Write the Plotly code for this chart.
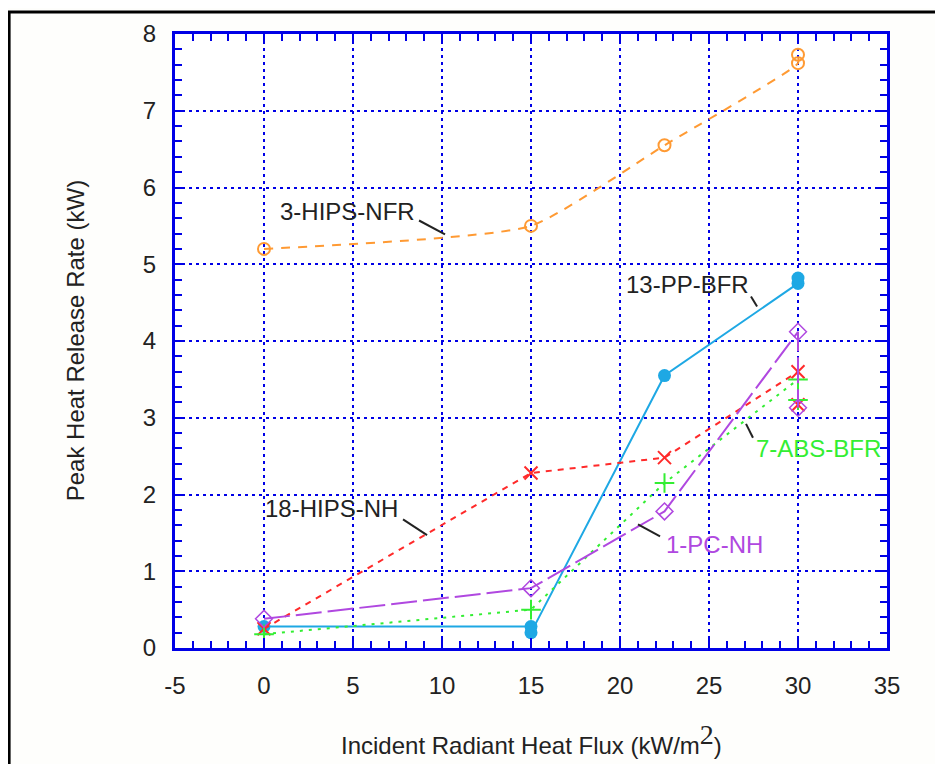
import plotly.graph_objects as go

# ---- data ----
hips_nfr_x = [0, 15, 22.5, 30, 30]
hips_nfr_y = [5.2, 5.5, 6.55, 7.62, 7.73]

pp_bfr_x = [0, 15, 15, 22.5, 30, 30]
pp_bfr_y = [0.28, 0.28, 0.2, 3.55, 4.75, 4.82]

hips_nh_x = [0, 15, 22.5, 30, 30]
hips_nh_y = [0.25, 2.28, 2.48, 3.6, 3.17]

abs_bfr_x = [0, 15, 22.5, 30, 30]
abs_bfr_y = [0.18, 0.5, 2.15, 3.5, 3.23]

pc_nh_x = [0, 15, 22.5, 30, 30]
pc_nh_y = [0.38, 0.78, 1.78, 4.12, 3.13]

x_ticks = [-5, 0, 5, 10, 15, 20, 25, 30, 35]
y_ticks = [0, 1, 2, 3, 4, 5, 6, 7, 8]

# label text, anchor (left, middle) and leader line endpoints (data coords)
labels = [
    ("3-HIPS-NFR", "#222222", 0.8, 5.69, (8.71, 5.57, 10.17, 5.39)),
    ("13-PP-BFR", "#222222", 20.25, 4.73, (27.36, 4.58, 27.70, 4.45)),
    ("18-HIPS-NH", "#222222", -0.05, 1.82, (7.81, 1.675, 9.16, 1.47)),
    ("1-PC-NH", "#b048e0", 22.45, 1.35, (21.01, 1.61, 22.25, 1.455)),
    ("7-ABS-BFR", "#33ee33", 27.5, 2.60, (27.08, 2.92, 27.47, 2.74)),
]

BLUE = "#0000e6"
FONT = "Liberation Sans"
FS = 24

fig = go.Figure()

fig.add_trace(go.Scatter(
    x=hips_nfr_x, y=hips_nfr_y, mode="lines+markers",
    line=dict(color="#ff9a33", width=2, dash="9px,8px", shape="spline", smoothing=0.5),
    marker=dict(symbol="circle-open", size=12, color="#ff9a33", line=dict(width=2)),
))
fig.add_trace(go.Scatter(
    x=pp_bfr_x, y=pp_bfr_y, mode="lines+markers",
    line=dict(color="#1ea8e4", width=2),
    marker=dict(symbol="circle", size=13, color="#1ea8e4"),
))
fig.add_trace(go.Scatter(
    x=hips_nh_x, y=hips_nh_y, mode="lines+markers",
    line=dict(color="#ff2a2a", width=2, dash="6px,6px"),
    marker=dict(symbol="x-thin-open", size=13, color="#ff2a2a", line=dict(width=2, color="#ff2a2a")),
))
fig.add_trace(go.Scatter(
    x=abs_bfr_x, y=abs_bfr_y, mode="lines+markers",
    line=dict(color="#33ee33", width=2, dash="3px,6px"),
    marker=dict(symbol="cross-thin-open", size=14, color="#33ee33", line=dict(width=2, color="#33ee33")),
))
fig.add_trace(go.Scatter(
    x=pc_nh_x, y=pc_nh_y, mode="lines+markers",
    line=dict(color="#b048e0", width=2, dash="26px,6px"),
    marker=dict(symbol="diamond-open", size=13, color="#b048e0", line=dict(width=1.5)),
))

for text, color, lx, ly, (x0, y0, x1, y1) in labels:
    fig.add_annotation(x=lx, y=ly, xref="x", yref="y", text=text, showarrow=False,
                       xanchor="left", yanchor="middle",
                       font=dict(family=FONT, size=FS, color=color))
    fig.add_shape(type="line", x0=x0, y0=y0, x1=x1, y1=y1, xref="x", yref="y",
                  line=dict(color="#222222", width=2))

# axis titles
fig.add_annotation(x=-0.140, y=0.5, xref="paper", yref="paper", textangle=-90,
                   xanchor="center", yanchor="middle",
                   text="Peak Heat Release Rate (kW)", showarrow=False,
                   font=dict(family=FONT, size=FS, color="#222222"))
fig.add_annotation(x=0.5, y=-0.149, xref="paper", yref="paper",
                   xanchor="center", yanchor="middle",
                   text="Incident Radiant Heat Flux (kW/m<sup><span style=\"font-family:Liberation Serif;font-size:28px\">2</span></sup>)",
                   showarrow=False, font=dict(family=FONT, size=FS, color="#222222"))

# outer frame
fig.add_shape(type="rect", xref="paper", yref="paper",
              x0=-0.233, x1=1.073, y0=-0.25, y1=1.036,
              line=dict(color="black", width=3), layer="below")

axis_common = dict(
    showline=True, linecolor=BLUE, linewidth=3, mirror="allticks",
    ticks="inside", ticklen=10, tickwidth=2, tickcolor=BLUE,
    showgrid=True, gridcolor=BLUE, gridwidth=2, griddash="3px,4px",
    zeroline=False,
    tickfont=dict(family=FONT, size=FS, color="#222222"),
)

fig.update_xaxes(range=[-5, 35], tickvals=x_ticks, ticktext=[str(v) for v in x_ticks],
                 ticklabelstandoff=14,
                 minor=dict(dtick=1, ticks="inside", ticklen=7, tickwidth=2, tickcolor=BLUE, showgrid=False),
                 **axis_common)
fig.update_yaxes(range=[0, 8], tickvals=y_ticks, ticktext=[str(v) for v in y_ticks],
                 ticklabelstandoff=11,
                 minor=dict(dtick=0.2, ticks="inside", ticklen=7, tickwidth=2, tickcolor=BLUE, showgrid=False),
                 **axis_common)

fig.update_layout(
    width=935, height=756,
    margin=dict(l=167, r=56, t=24, b=116),
    plot_bgcolor="white", paper_bgcolor="#fefefc",
    showlegend=False,
)

fig.write_html("out.html")
